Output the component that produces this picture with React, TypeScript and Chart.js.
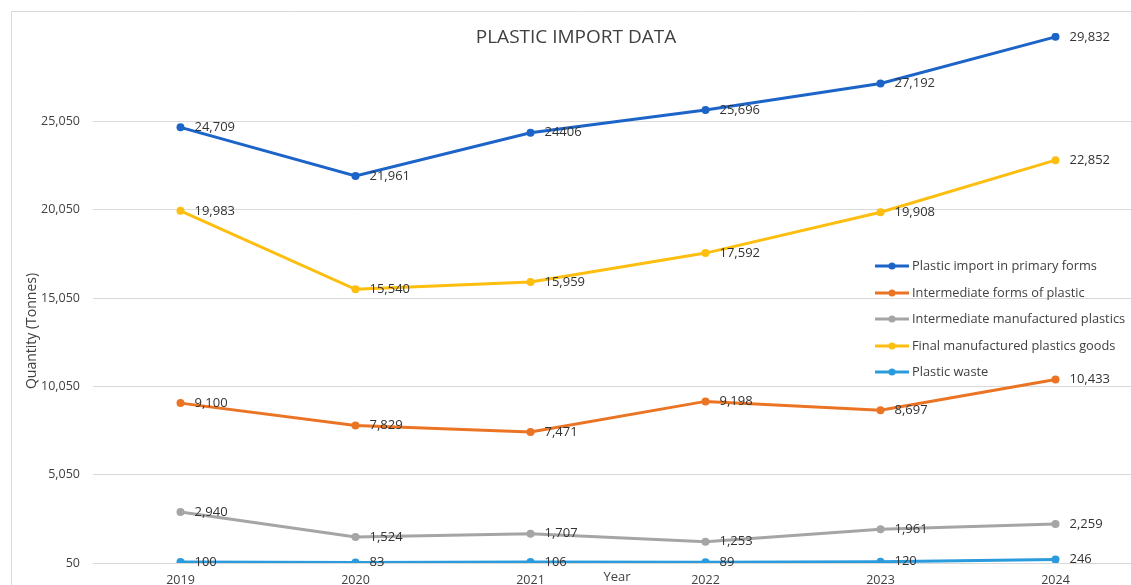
import React, { useEffect, useRef } from "react";
import { Chart, registerables } from "chart.js";

Chart.register(...registerables);

const years = ["2019", "2020", "2021", "2022", "2023", "2024"];
const primaryForms = [24709, 21961, 24406, 25696, 27192, 29832];
const primaryFormsLabels = ["24,709", "21,961", "24406", "25,696", "27,192", "29,832"];
const intermediateForms = [9100, 7829, 7471, 9198, 8697, 10433];
const intermediateManufactured = [2940, 1524, 1707, 1253, 1961, 2259];
const finalGoods = [19983, 15540, 15959, 17592, 19908, 22852];
const plasticWaste = [100, 83, 106, 89, 120, 246];
const yTicks = [50, 5050, 10050, 15050, 20050, 25050];

const seriesNames = [
  "Plastic import in primary forms",
  "Intermediate forms of plastic",
  "Intermediate manufactured plastics",
  "Final manufactured plastics goods",
  "Plastic waste",
];
const seriesColors = ["#1C64C8", "#EB7424", "#A5A5A5", "#FDBE10", "#2A9BDD"];

const FONT = "'Open Sans', 'Liberation Sans', sans-serif";
const fmt = (v: number) => v.toLocaleString("en-US");

const decorPlugin = {
  id: "decor",
  beforeDraw(chart: any) {
    const ctx = chart.ctx;
    ctx.save();
    ctx.fillStyle = "#ffffff";
    ctx.fillRect(0, 0, chart.width, chart.height);
    ctx.strokeStyle = "#D9D9D9";
    ctx.lineWidth = 1;
    ctx.beginPath();
    ctx.moveTo(11.5, chart.height);
    ctx.lineTo(11.5, 11.5);
    ctx.lineTo(chart.width, 11.5);
    ctx.stroke();
    ctx.restore();
  },
  afterDraw(chart: any) {
    const ctx = chart.ctx;
    ctx.save();
    // title
    ctx.fillStyle = "#404040";
    ctx.font = `19px ${FONT}`;
    ctx.textAlign = "center";
    ctx.textBaseline = "middle";
    ctx.fillText("PLASTIC IMPORT DATA", 576, 38);
    // x title
    ctx.fillStyle = "#404040";
    ctx.font = `13px ${FONT}`;
    ctx.fillText("Year", 617, 577);
    // y title
    ctx.save();
    ctx.translate(32, 331);
    ctx.rotate(-Math.PI / 2);
    ctx.font = `14px ${FONT}`;
    ctx.fillText("Quantity (Tonnes)", 0, 0);
    ctx.restore();
    // legend
    const ys = [266, 293, 319, 346, 372];
    chart.data.datasets.forEach((ds: any, i: number) => {
      const y = ys[i];
      ctx.strokeStyle = ds.borderColor;
      ctx.lineWidth = 3;
      ctx.beginPath();
      ctx.moveTo(875, y);
      ctx.lineTo(909, y);
      ctx.stroke();
      ctx.fillStyle = ds.borderColor;
      ctx.beginPath();
      ctx.arc(892, y, 3.5, 0, Math.PI * 2);
      ctx.fill();
      ctx.fillStyle = "#404040";
      ctx.font = `12.8px ${FONT}`;
      ctx.textAlign = "left";
      ctx.textBaseline = "middle";
      ctx.fillText(ds.label, 912, y);
    });
    ctx.restore();
  },
  afterDatasetsDraw(chart: any) {
    const ctx = chart.ctx;
    ctx.save();
    ctx.fillStyle = "#333333";
    ctx.font = `13px ${FONT}`;
    ctx.textAlign = "left";
    ctx.textBaseline = "middle";
    chart.data.datasets.forEach((ds: any, i: number) => {
      const meta = chart.getDatasetMeta(i);
      meta.data.forEach((pt: any, j: number) => {
        const text = ds.valueLabels ? ds.valueLabels[j] : fmt(ds.data[j]);
        ctx.fillText(text, pt.x + 14, pt.y);
      });
    });
    ctx.restore();
  },
};

export default function App() {
  const ref = useRef<HTMLCanvasElement | null>(null);
  useEffect(() => {
    if (!ref.current) return;
    const allData = [primaryForms, intermediateForms, intermediateManufactured, finalGoods, plasticWaste];
    const chart = new Chart(ref.current, {
      type: "line",
      data: {
        labels: years,
        datasets: allData.map((d, i) => ({
          label: seriesNames[i],
          data: d,
          borderColor: seriesColors[i],
          backgroundColor: seriesColors[i],
          borderWidth: 3,
          pointRadius: 4,
          pointBorderWidth: 0,
          pointBackgroundColor: seriesColors[i],
          tension: 0,
          fill: false,
          valueLabels: i === 0 ? primaryFormsLabels : undefined,
        })) as any,
      },
      options: {
        animation: false,
        responsive: false,
        maintainAspectRatio: false,
        layout: { padding: { left: 0, right: 0, top: 33, bottom: 0 } },
        plugins: { legend: { display: false }, title: { display: false }, tooltip: { enabled: false } },
        scales: {
          x: {
            type: "category",
            offset: true,
            grid: { display: false, drawTicks: false },
            border: { display: true, color: "#D9D9D9" },
            ticks: { color: "#404040", font: { family: FONT, size: 12.5 }, padding: 10, maxRotation: 0 },
            afterFit: (s: any) => { s.height = 37; },
          },
          y: {
            type: "linear",
            min: 50,
            max: 30050,
            afterBuildTicks: (s: any) => { s.ticks = yTicks.map((v) => ({ value: v })); },
            grid: { color: "#D9D9D9", drawTicks: false, lineWidth: 1 },
            border: { display: false },
            ticks: {
              color: "#404040",
              font: { family: FONT, size: 12.5 },
              padding: 13,
              callback: (v: any) => fmt(Number(v)),
            },
            afterFit: (s: any) => { s.width = 93; },
          },
        },
      },
      plugins: [decorPlugin],
    });
    return () => chart.destroy();
  }, []);
  return (
    <div style={{ position: "fixed", left: 0, top: 0, width: 1131, height: 585, overflow: "hidden", background: "#fff" }}>
      <canvas ref={ref} width={1147} height={600} style={{ width: 1147, height: 600, display: "block" }} />
    </div>
  );
}
